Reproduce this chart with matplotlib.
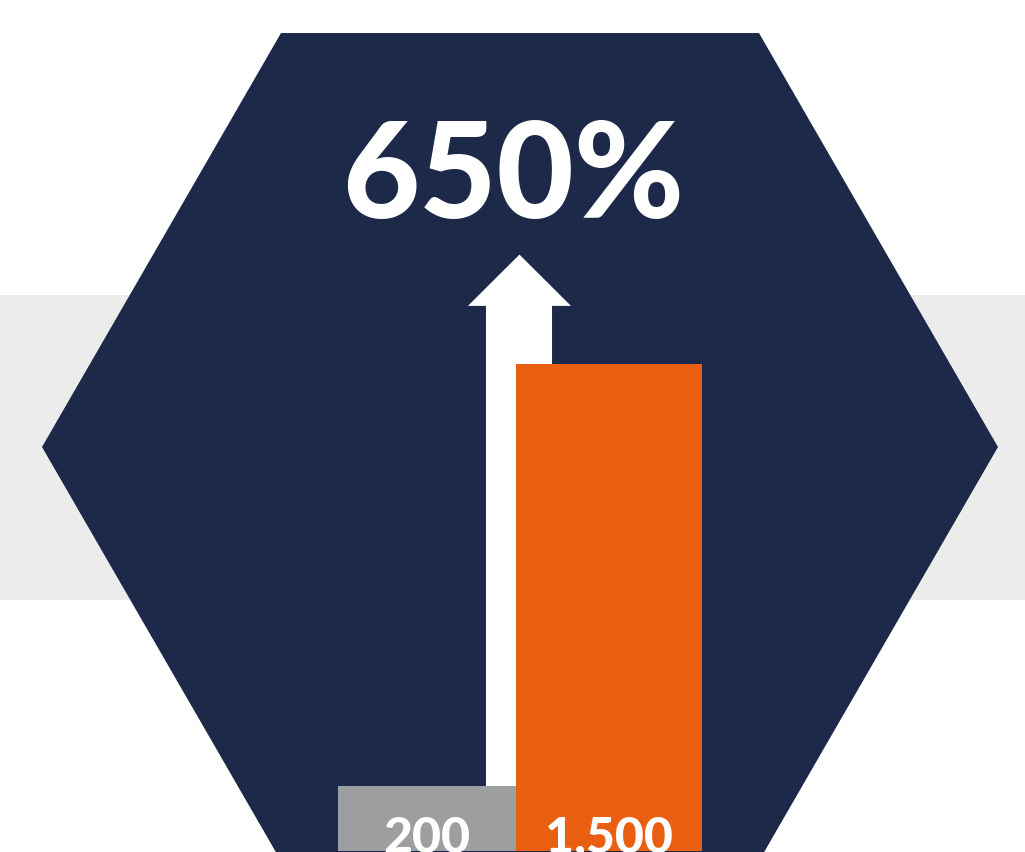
import numpy as np
import matplotlib
matplotlib.use("Agg")
import matplotlib.pyplot as plt
from matplotlib.patches import RegularPolygon, Rectangle, Polygon

# data
categories = ["Before", "After"]
values = [200, 1500]
value_labels = ["200", "1,500"]
headline = "650%"

NAVY = "#1C2948"
ORANGE = "#E95F12"
GREY = "#9D9EA0"
BAND = "#ECECEC"
FONT = ["Lato", "DejaVu Sans"]

W, H = 1025, 853
fig = plt.figure(figsize=(W / 100, H / 100), dpi=100, facecolor="white")

# background layer in pixel units
bg = fig.add_axes([0, 0, 1, 1])
bg.set_xlim(0, W)
bg.set_ylim(H, 0)
bg.set_axis_off()
bg.add_patch(Rectangle((0, 296), W, 305, color=BAND, lw=0))
bg.add_patch(RegularPolygon((520, 448), 6, radius=478, orientation=np.pi / 6,
                            color=NAVY, lw=0))
bg.text(513, 218, headline, ha="center", va="baseline", color="white",
        fontsize=96, fontweight=900, family=FONT)

# bar layer: baseline at 852 px, top of axes = 1500 at 365 px
top_px, base_px = 365, 852
ax = fig.add_axes([338 / W, (H - base_px) / H, (702 - 338) / W, (base_px - top_px) / H])
ax.set_xlim(0, 2)
ax.set_ylim(0, max(values))
ax.set_axis_off()
ax.patch.set_alpha(0)

# the grey bar is a touch narrower than the orange one
widths = np.array([0.978, 1.022])
lefts = np.concatenate([[0], np.cumsum(widths)[:-1]])
centers = lefts + widths / 2

# arrow, in data units of the bar axes
shaft_l, shaft_r = 0.813, 1.176
head_l, head_r = 0.714, 1.28
head_base, tip = 1679, 1837
arrow = Polygon([(shaft_l, 0), (shaft_l, head_base), (head_l, head_base),
                 ((head_l + head_r) / 2, tip), (head_r, head_base),
                 (shaft_r, head_base), (shaft_r, 0)],
                closed=True, color="white", lw=0, clip_on=False, zorder=1)
ax.add_patch(arrow)

ax.bar(lefts, values, width=widths, align="edge", color=[GREY, ORANGE], lw=0, zorder=2)
for xc, lab in zip(centers, value_labels):
    ax.text(xc, -3, lab, ha="center", va="baseline", color="white",
            fontsize=36, fontweight=900, family=FONT, zorder=3, clip_on=False)

fig.savefig("out.png", dpi=100, facecolor="white")
